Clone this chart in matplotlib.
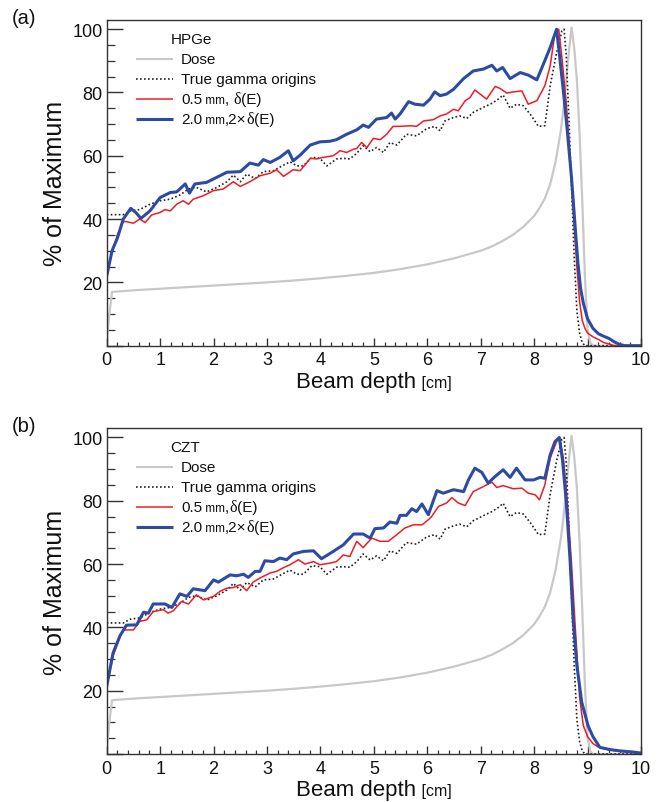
import matplotlib
matplotlib.use("Agg")
import matplotlib.pyplot as plt
from matplotlib.ticker import MultipleLocator, FuncFormatter
from matplotlib.offsetbox import AnchoredOffsetbox, VPacker, HPacker, TextArea, DrawingArea
from matplotlib.lines import Line2D

FONT = "Liberation Sans"
SERIF = "Liberation Serif"
plt.rcParams["font.family"] = [FONT, "DejaVu Sans"]

# ---------------- data ----------------
x_ticks = list(range(0, 11))

dose_x = [0, 0.05, 0.1, 0.5, 1, 1.5, 2, 2.5, 3, 3.5, 4, 4.5, 5, 5.5, 6, 6.5, 7, 7.2, 7.4,
          7.6, 7.8, 8.0, 8.1, 8.2, 8.3, 8.4, 8.5, 8.55, 8.6, 8.65, 8.7, 8.75, 8.8, 8.85,
          8.9, 8.95, 9.0, 9.05, 9.1, 10]
dose_y = [1, 10, 17, 17.5, 18, 18.5, 19, 19.5, 20, 20.6, 21.3, 22.1, 23.0, 24.2, 25.7, 27.6,
          30, 31.3, 33.0, 35.0, 37.6, 41.0, 43.5, 46.5, 51.0, 58.0, 68.0, 75.0, 84.0, 93.0,
          100.5, 94, 84, 67, 46, 22, 5, 1, 0, 0]

gamma_x = [0, 0.31, 0.44, 0.62, 0.81, 1.0, 1.19, 1.37, 1.53, 1.68, 1.87, 2.06, 2.25, 2.37,
           2.5, 2.62, 2.78, 2.93, 3.12, 3.31, 3.43, 3.56, 3.68, 3.84, 3.99, 4.12, 4.3, 4.43,
           4.55, 4.68, 4.8, 4.93, 5.05, 5.18, 5.3, 5.43, 5.61, 5.8, 5.99, 6.14, 6.24, 6.33,
           6.49, 6.61, 6.74, 6.86, 7.05, 7.21, 7.33, 7.42, 7.55, 7.67, 7.8, 7.95, 8.08, 8.2,
           8.3, 8.42, 8.52, 8.56, 8.6, 8.65, 8.7, 8.75, 8.8, 8.85, 8.9, 8.95, 10]
gamma_y = [41.4, 41.4, 42.6, 43, 44.7, 45.8, 46.3, 47.6, 49.5, 50, 48.6, 50, 51.8, 53.9,
           51.8, 54.2, 52.8, 55, 55.3, 57.05, 58.1, 56.8, 56.8, 59.5, 59.2, 56.8, 59, 59.2,
           59, 60.8, 63.2, 61.3, 62.6, 61.05, 64.2, 63.4, 66.8, 66.3, 68.6, 69.3, 67.9, 71,
           72.1, 72.6, 71.8, 73.7, 75.3, 76.6, 77.9, 79.2, 75, 76.3, 75.8, 72.6, 69.3, 69.5,
           82.1, 92.6, 99.5, 100, 92, 72, 50, 28, 11, 4, 1, 0, 0]

# panel (a) HPGe
hpge_red_x = [0, 0.1, 0.2, 0.31, 0.37, 0.5, 0.62, 0.72, 0.84, 1.0, 1.09, 1.19, 1.31, 1.43,
              1.53, 1.62, 1.81, 2.0, 2.18, 2.37, 2.5, 2.68, 2.87, 3.06, 3.18, 3.31, 3.49,
              3.62, 3.74, 3.81, 3.93, 4.05, 4.24, 4.37, 4.49, 4.62, 4.68, 4.77, 4.87, 4.99,
              5.12, 5.24, 5.36, 5.49, 5.68, 5.8, 5.93, 6.11, 6.24, 6.36, 6.49, 6.58, 6.71,
              6.8, 6.89, 6.99, 7.11, 7.27, 7.36, 7.49, 7.61, 7.77, 7.89, 8.05, 8.2, 8.3,
              8.39, 8.46, 8.52, 8.6, 8.67, 8.75, 8.8, 8.85, 8.9, 8.95, 9.0, 9.1, 9.2, 9.3,
              9.45, 9.5, 10]
hpge_red_y = [22, 29.5, 35, 39.2, 39.2, 38.7, 40, 38.9, 41.3, 42.1, 43, 42.6, 44.7, 45.8,
              44.7, 46.3, 47.4, 49, 49.5, 51.8, 50.3, 51.8, 53.7, 54.5, 55.6, 53.5, 55.6,
              55.3, 57.7, 59.2, 59, 59.5, 60, 61.6, 61.05, 62.1, 62.3, 64.2, 62.6, 65.5,
              65.1, 66.8, 69.3, 69.3, 69.5, 69.3, 71, 71.4, 72.6, 73.2, 74.7, 74.2, 77.4,
              78.4, 80.8, 79.5, 77.9, 81.9, 81.3, 79.8, 80.2, 80.5, 76.3, 77.4, 82.1, 88.4,
              98.9, 100, 91, 77, 60, 38, 25, 14, 8, 5.5, 4, 2.8, 2, 1, 0.3, 0, 0]

hpge_blue_x = [0, 0.1, 0.2, 0.31, 0.45, 0.55, 0.64, 0.81, 1.0, 1.19, 1.31, 1.47, 1.55, 1.65,
               1.87, 2.06, 2.25, 2.5, 2.68, 2.84, 2.93, 3.06, 3.24, 3.4, 3.49, 3.62, 3.81,
               3.99, 4.18, 4.3, 4.49, 4.68, 4.8, 4.9, 5.05, 5.24, 5.33, 5.4, 5.49, 5.65,
               5.77, 5.93, 6.05, 6.14, 6.24, 6.36, 6.49, 6.68, 6.86, 7.05, 7.21, 7.3, 7.41,
               7.55, 7.74, 7.89, 8.05, 8.14, 8.3, 8.42, 8.48, 8.55, 8.62, 8.7, 8.77, 8.82,
               8.87, 8.92, 9.0, 9.1, 9.2, 9.3, 9.4, 9.5, 9.6, 9.7, 10.0]
hpge_blue_y = [22, 30, 34, 40, 43.4, 42, 40.2, 42.6, 46.8, 48.4, 48.6, 51.1, 48.2, 51.1,
               51.6, 53.2, 54.8, 55.0, 57.7, 57.05, 58.8, 57.9, 59.5, 61.6, 58.4, 60.2, 63.4,
               64.4, 64.6, 65.1, 66.8, 68.2, 69.7, 69.0, 71.6, 72.1, 73.5, 71.6, 73.2, 77.1,
               76.3, 76.0, 77.9, 80.2, 79.0, 79.5, 81.0, 84.4, 86.8, 87.4, 88.6, 86.8, 87.9,
               84.4, 86.3, 85.5, 84.0, 87.6, 94.2, 100, 91, 80, 68, 53, 37, 26,
               18, 13.5, 8.5, 5.5, 3.8, 3.0, 2.3, 1.2, 0.4, 0, 0]

# panel (b) CZT
czt_red_x = [0, 0.12, 0.25, 0.31, 0.5, 0.62, 0.75, 0.87, 1.06, 1.15, 1.25, 1.4, 1.53, 1.68,
             1.81, 2.0, 2.12, 2.25, 2.37, 2.5, 2.62, 2.74, 2.87, 3.06, 3.18, 3.31, 3.43,
             3.59, 3.71, 3.87, 3.99, 4.18, 4.3, 4.43, 4.55, 4.68, 4.8, 4.96, 5.12, 5.27,
             5.43, 5.58, 5.74, 5.9, 6.02, 6.08, 6.21, 6.36, 6.46, 6.58, 6.71, 6.86, 7.05,
             7.21, 7.3, 7.42, 7.61, 7.77, 7.89, 8.02, 8.1, 8.2, 8.3, 8.42, 8.48, 8.55, 8.62,
             8.7, 8.77, 8.85, 8.92, 9.0, 9.1, 9.2, 9.4, 9.6, 9.8, 10]
czt_red_y = [21.4, 31, 37, 39.2, 39.2, 41.9, 42.4, 45, 45.6, 44.5, 45.3, 48.2, 47.4, 50.3,
             48.7, 49.8, 51.4, 52.4, 52.6, 53.5, 51.6, 54.3, 55.6, 57.2, 57.7, 58.9, 59.8,
             61.4, 60, 60.8, 59.8, 60.3, 60.8, 62.9, 62.4, 67.2, 65.2, 68.2, 67.2, 67.2,
             69.3, 71.4, 72.4, 72.4, 74, 75, 78.2, 79.3, 81, 79.3, 78.5, 82.9, 84.5,
             85.9, 84.2, 84.8, 83.8, 84, 82.4, 81.9, 80.3, 85, 93.5, 98.7, 100, 93, 80,
             60, 40, 18, 9, 5.5, 3.3, 2.2, 1.3, 0.9, 0.6, 0.3]

czt_blue_x = [0, 0.12, 0.25, 0.37, 0.56, 0.69, 0.78, 0.87, 1.09, 1.22, 1.37, 1.5, 1.62,
              1.84, 2.0, 2.09, 2.31, 2.43, 2.56, 2.65, 2.78, 2.87, 2.96, 3.12, 3.24, 3.37,
              3.49, 3.68, 3.87, 4.02, 4.24, 4.43, 4.62, 4.8, 4.93, 5.02, 5.18, 5.3, 5.43,
              5.49, 5.61, 5.71, 5.8, 5.9, 6.02, 6.18, 6.3, 6.49, 6.68, 6.77, 6.89, 7.02,
              7.14, 7.27, 7.42, 7.55, 7.67, 7.83, 7.99, 8.11, 8.2, 8.3, 8.39, 8.47, 8.53,
              8.6, 8.67, 8.73, 8.8, 8.89, 9.01, 9.1, 9.23, 9.42, 9.6, 9.86, 10]
czt_blue_y = [21.4, 32, 37.4, 40.7, 40.8, 44.8, 44.5, 47.4, 47.4, 46.3, 50.6, 49.8, 52.2,
              51.6, 55.0, 54.3, 56.6, 56.3, 56.8, 55.8, 57.7, 57.7, 61.05, 60.8, 61.9, 61.4,
              63.2, 64, 64.2, 61.7, 64, 66.1, 69.5, 69.5, 68.2, 71.2, 71.4, 73.3, 72.9,
              75.4, 75.4, 77.5, 76.6, 79, 75.6, 83.2, 82.4, 83.5, 82.9, 86.6, 90.3, 89,
              85.6, 87.7, 89.8, 87.4, 90.3, 86.6, 86.6, 87.4, 87.1, 94.5, 98.7, 100, 93,
              80, 62, 42.6, 28, 16.4, 8.9, 5.5, 2.1, 1.4, 1.0, 0.6, 0.3]

# ---------------- styles ----------------
C_DOSE = "#c8c8c8"
C_GAMMA = "#222222"
C_RED = "#ee1c24"
C_BLUE = "#2d4ba3"
FRAME = "#333333"

fig = plt.figure(figsize=(6.63, 8.03), dpi=100)

W, H = 663.0, 803.0
ax_left, ax_right = 106.7, 641.0
panels = [
    dict(top=20.7, bottom=346.7, tag="(a)", tag_y=19, det="HPGe",
         red=(hpge_red_x, hpge_red_y), blue=(hpge_blue_x, hpge_blue_y),
         red_lab=[("0.5", 11, FONT), (" mm", 8.5, FONT), (", ", 11, FONT), ("δ", 11.5, SERIF), ("(E)", 11, FONT)],
         blue_lab=[("2.0", 11, FONT), (" mm", 8.5, FONT), (",2×", 11, FONT), ("δ", 11.5, SERIF), ("(E)", 11, FONT)]),
    dict(top=429.0, bottom=755.0, tag="(b)", tag_y=427, det="CZT",
         red=(czt_red_x, czt_red_y), blue=(czt_blue_x, czt_blue_y),
         red_lab=[("0.5", 11, FONT), (" mm", 8.5, FONT), (",", 11, FONT), ("δ", 11.5, SERIF), ("(E)", 11, FONT)],
         blue_lab=[("2.0", 11, FONT), (" mm", 8.5, FONT), (",2×", 11, FONT), ("δ", 11.5, SERIF), ("(E)", 11, FONT)]),
]


def text_row(pieces):
    areas = [TextArea(t, textprops=dict(size=s, family=[f, "DejaVu Sans"], color="#111111"))
             for t, s, f in pieces]
    return HPacker(children=areas, align="baseline", sep=0, pad=0)


def sample(color, lw, ls):
    da = DrawingArea(26.4, 14.4, 0, 0)
    da.add_artist(Line2D([0, 26.4], [7.2, 7.2], color=color, lw=lw, ls=ls,
                         solid_capstyle="butt"))
    return da


for p in panels:
    ax = fig.add_axes([ax_left / W, 1 - p["bottom"] / H,
                       (ax_right - ax_left) / W, (p["bottom"] - p["top"]) / H])
    ax.plot(dose_x, dose_y, color=C_DOSE, lw=1.6)
    ax.plot(gamma_x, gamma_y, color=C_GAMMA, lw=1.2, ls=(0, (1, 1.4)))
    ax.plot(*p["red"], color=C_RED, lw=1.1)
    ax.plot(*p["blue"], color=C_BLUE, lw=2.2)

    ax.set_xlim(0, 10)
    ax.set_ylim(0, 103)
    ax.xaxis.set_major_locator(MultipleLocator(1))
    ax.xaxis.set_minor_locator(MultipleLocator(0.2))
    ax.yaxis.set_major_locator(MultipleLocator(20))
    ax.yaxis.set_minor_locator(MultipleLocator(5))
    ax.yaxis.set_major_formatter(FuncFormatter(lambda v, pos: "" if v < 1 else f"{v:.0f}"))
    ax.set_xticks(x_ticks)
    ax.tick_params(axis="y", which="major", direction="in", length=11.5, width=1.0,
                   color=FRAME, labelsize=13, pad=3, labelcolor="#111111")
    ax.tick_params(axis="y", which="minor", direction="in", length=5.5, width=0.9, color=FRAME)
    ax.tick_params(axis="x", which="major", direction="in", length=6, width=1.0,
                   color=FRAME, labelsize=13, pad=4, labelcolor="#111111")
    ax.tick_params(axis="x", which="minor", direction="in", length=3, width=0.9, color=FRAME)
    for s in ax.spines.values():
        s.set_color(FRAME)
        s.set_linewidth(1.0)

    ax.set_ylabel("% of Maximum", fontsize=18, color="#111111")
    ax.yaxis.set_label_coords(-0.075, 0.5)

    # x label with smaller unit
    xl = HPacker(children=[
        TextArea("Beam depth", textprops=dict(size=16, color="#111111")),
        TextArea(" [cm]", textprops=dict(size=11.5, color="#111111"))],
        align="baseline", sep=0, pad=0)
    ax.add_artist(AnchoredOffsetbox(loc="upper center", child=xl, pad=0, borderpad=0,
                                    frameon=False, bbox_to_anchor=(0.5, -0.078),
                                    bbox_transform=ax.transAxes))

    # legend
    rows = [
        HPacker(children=[DrawingArea(25.0, 14.4, 0, 0),
                          TextArea(p["det"], textprops=dict(size=11, color="#111111"))],
                align="center", sep=0, pad=0),
        HPacker(children=[sample(C_DOSE, 1.6, "-"),
                          text_row([("Dose", 11, FONT)])], align="center", sep=6, pad=0),
        HPacker(children=[sample(C_GAMMA, 1.2, (0, (1, 1.4))),
                          text_row([("True gamma origins", 11, FONT)])], align="center", sep=6, pad=0),
        HPacker(children=[sample(C_RED, 1.1, "-"), text_row(p["red_lab"])],
                align="center", sep=6, pad=0),
        HPacker(children=[sample(C_BLUE, 2.2, "-"), text_row(p["blue_lab"])],
                align="center", sep=6, pad=0),
    ]
    leg = VPacker(children=rows, align="left", sep=0, pad=0)
    ax.add_artist(AnchoredOffsetbox(loc="upper left", child=leg, pad=0, borderpad=0,
                                    frameon=False, bbox_to_anchor=(0.0548, 0.972),
                                    bbox_transform=ax.transAxes))

    fig.text(12 / W, 1 - p["tag_y"] / H, p["tag"], fontsize=14.5, va="center", ha="left",
             color="#111111")

fig.savefig("out.png", dpi=100)
